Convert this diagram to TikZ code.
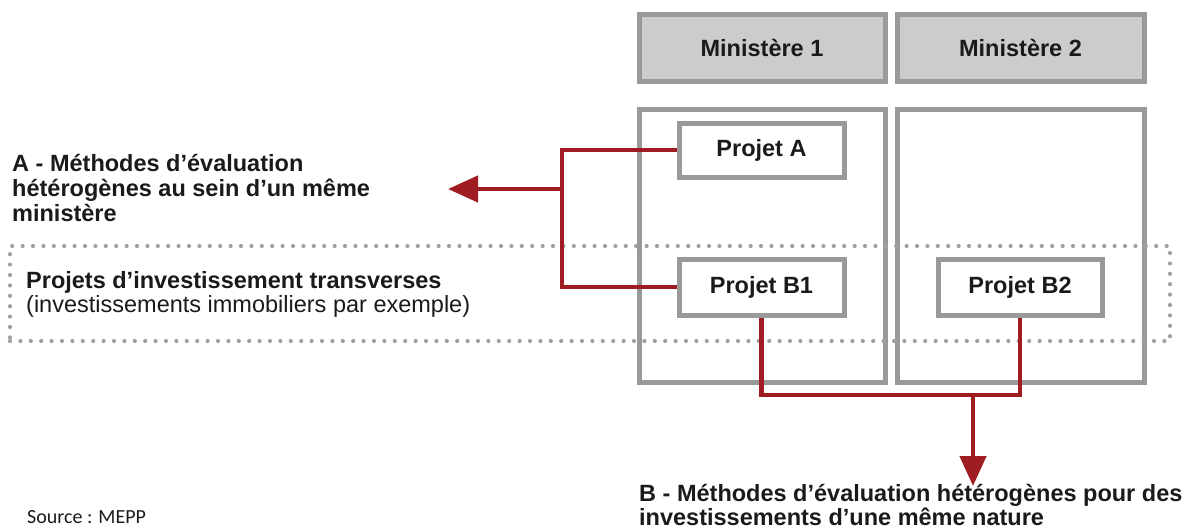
\documentclass[tikz,border=0pt]{standalone}
\usepackage{fontspec}
\setmainfont{Liberation Sans}
\newfontfamily\srcfont{Carlito}
\usetikzlibrary{arrows.meta}

\definecolor{frame}{HTML}{999999}
\definecolor{headfill}{HTML}{CCCCCC}
\definecolor{link}{HTML}{9E1C22}
\definecolor{ink}{HTML}{1A1A1A}
\definecolor{dots}{HTML}{A0A0A0}

\tikzset{
  lbl/.style={font=\bfseries\fontsize{23.5}{25}\selectfont, text=ink},
  headbox/.style={draw=frame, fill=headfill, line width=5pt, inner sep=0pt,
                  minimum height=67pt, lbl},
  colbox/.style={draw=frame, line width=5pt, inner sep=0pt, minimum height=273pt},
  projbox/.style={draw=frame, fill=white, line width=5pt, inner sep=0pt, lbl},
  dotbox/.style={draw=dots, line width=4.2pt, line cap=round,
                 dash pattern=on 0pt off 10.4pt, inner sep=0pt},
  link/.style={draw=link, line width=4.5pt},
  linkarrow/.style={link, -{Triangle[length=30pt, width=26pt]}},
  % multi-line blocks are placed by the baseline of their last line
  textblock/.style={anchor=base west, align=left, inner sep=0pt, text=ink}
}

\begin{document}
\begin{tikzpicture}[x=1pt, y=-1pt]
  \useasboundingbox (0,0) rectangle (1197,528);

  % ministry headers
  \node[headbox, minimum width=246pt] (m1) at (762,47.5) {Ministère 1};
  \node[headbox, minimum width=247pt] (m2) at (1020.5,47.5) {Ministère 2};

  % ministry columns
  \node[colbox, minimum width=246pt] (c1) at (762,245.5) {};
  \node[colbox, minimum width=247pt] (c2) at (1020.5,245.5) {};

  % band of transverse investment projects
  \node[dotbox, minimum width=1160pt, minimum height=95pt] (band) at (590,293.5) {};
  \node[textblock, font=\fontsize{23.5}{23.5}\selectfont] (bandtxt) at (26,312)
    {\bfseries Projets d’investissement transverses\\(investissements immobiliers par exemple)};

  % projects
  \node[projbox, minimum width=165pt, minimum height=54pt] (pa) at (761.5,150) {Projet A};
  \node[projbox, minimum width=165pt, minimum height=56pt] (pb1) at (761.5,287) {Projet B1};
  \node[projbox, minimum width=164pt, minimum height=56pt] (pb2) at (1020,287) {Projet B2};

  % finding A: within one ministry
  \coordinate (ja) at (562,189);
  \coordinate (tipa) at (448,189);
  \draw[link] (pa.west) -| (ja) |- (pb1.west);
  \draw[linkarrow] (ja) -- (tipa);
  \node[textblock, lbl] (ta) at (12,221)
    {A - Méthodes d’évaluation\\hétérogènes au sein d’un même\\ministère};

  % finding B: across ministries
  \coordinate (jb) at (973,395);
  \coordinate (tipb) at (973,486);
  \draw[link] (pb1.south) |- (jb) -| (pb2.south);
  \draw[linkarrow] (jb) -- (tipb);
  \node[textblock, lbl, font=\bfseries\fontsize{23.5}{24}\selectfont] (tb) at (639,525)
    {B - Méthodes d’évaluation hétérogènes pour des\\investissements d’une même nature};

  % source line
  \node[anchor=base west, inner sep=0pt, text=ink, font=\srcfont\fontsize{20}{24}\selectfont]
    (src) at (27,523) {Source : MEPP};
\end{tikzpicture}
\end{document}
